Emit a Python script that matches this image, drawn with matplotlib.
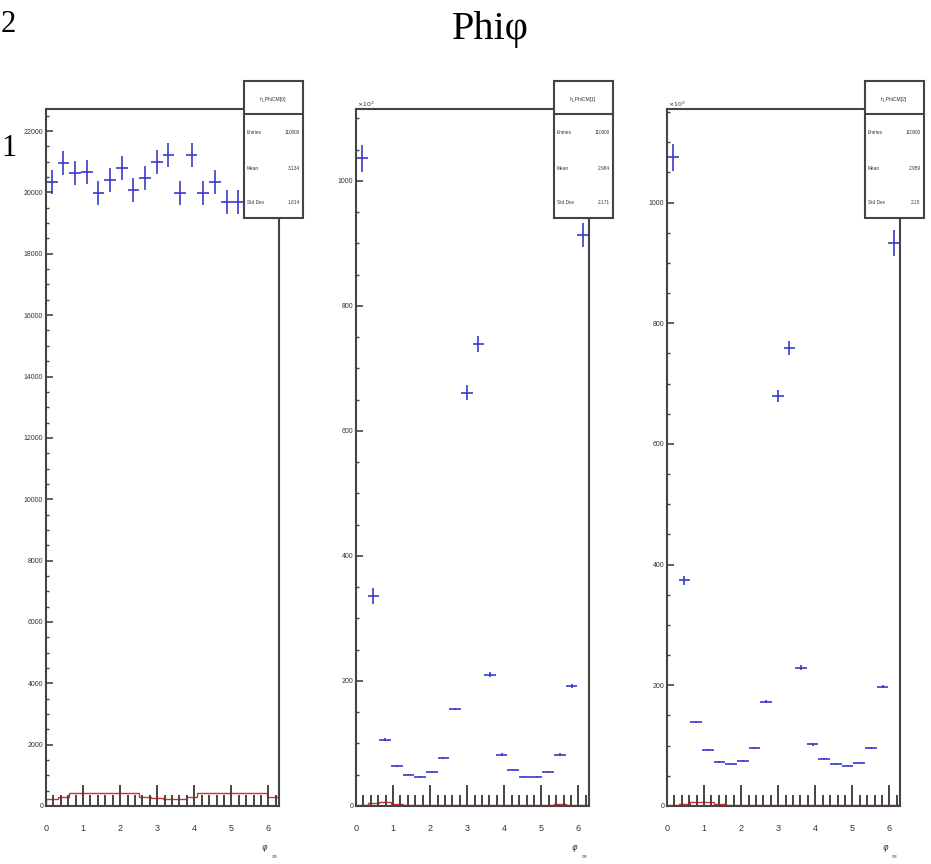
import numpy as np
import matplotlib.pyplot as plt
from matplotlib.patches import Rectangle
from matplotlib.lines import Line2D
from matplotlib.ticker import MultipleLocator

# 20 bins over 0..2pi
edges = np.linspace(0, 2 * np.pi, 21)
centers = 0.5 * (edges[:-1] + edges[1:])
halfw = 0.5 * (edges[1] - edges[0])

# h_PhiCM[0] (counts), last three bins sit behind the stats box
blue0 = [20330, 20950, 20620, 20660, 19980, 20400, 20790, 20070, 20460, 20990,
         21210, 19980, 21210, 19980, 20330, 19680, 19680, 19900, 20100, 20300]
err0 = [390] * 20
red0 = [220, 300, 430, 430, 430, 430, 430, 430, 300, 260,
        220, 220, 300, 430, 430, 430, 430, 430, 430, 300]

# h_PhiCM[1] (x10^3)
blue1 = [1036, 336, 106, 64, 50, 47, 55, 77, 155, 661,
         739, 210, 82, 58, 47, 47, 54, 82, 192, 913]
err1 = [21, 13, 2, 1, 1, 1, 1, 2, 2, 12, 13, 4, 2, 1, 1, 1, 1, 2, 3, 19]
red1 = [2, 5, 6, 3, 2, 2, 2, 2, 2, 2, 2, 2, 2, 2, 2, 2, 2, 3, 2, 2]

# h_PhiCM[2] (x10^3)
blue2 = [1075, 374, 139, 93, 73, 70, 75, 96, 173, 680,
         759, 229, 102, 78, 70, 67, 72, 96, 198, 933]
err2 = [22, 7, 2, 2, 1, 1, 1, 2, 3, 10, 11, 4, 2, 2, 1, 1, 1, 2, 3, 21]
red2 = [2, 4, 7, 6, 3, 2, 2, 2, 2, 2, 2, 2, 2, 2, 2, 2, 2, 2, 2, 2]

names = ['h_PhiCM[0]', 'h_PhiCM[1]', 'h_PhiCM[2]']
entries = ['110000', '110000', '110000']
means = ['3.134', '2.984', '2.959']
stddevs = ['1.814', '2.171', '2.15']

W, H = 931, 864
fig = plt.figure(figsize=(W / 100, H / 100), dpi=100)
fc = '#444444'
blue = '#3a3acc'
red = '#e02828'

lefts = [46, 356, 667]
box_lefts = [244, 554, 865]
ymaxs = [22720, 1115, 1155]
ymajor = [2000, 200, 200]
yminor = [500, 50, 50]
data = [(blue0, err0, red0), (blue1, err1, red1), (blue2, err2, red2)]

for i in range(3):
    ax = fig.add_axes([lefts[i] / W, 1 - 806 / H, 233 / W, 697 / H])
    b, e, r = data[i]
    ax.errorbar(centers, b, xerr=halfw, yerr=e, fmt='none', ecolor=blue,
                elinewidth=1.2, capsize=0)
    ax.stairs(r, edges, color=red, lw=1.0)
    ax.set_xlim(0, 2 * np.pi)
    ax.set_ylim(0, ymaxs[i])
    ax.xaxis.set_major_locator(MultipleLocator(1))
    ax.xaxis.set_minor_locator(MultipleLocator(0.2))
    ax.yaxis.set_major_locator(MultipleLocator(ymajor[i]))
    ax.yaxis.set_minor_locator(MultipleLocator(yminor[i]))
    ax.tick_params(axis='x', which='major', direction='in', length=15, width=1.4,
                   color=fc, labelsize=6.5, pad=13, labelcolor='#333333')
    ax.tick_params(axis='x', which='minor', direction='in', length=8, width=1.4, color=fc)
    ax.tick_params(axis='y', which='major', direction='in', length=5, width=1.2,
                   color=fc, labelsize=5, pad=2, labelcolor='#333333')
    ax.tick_params(axis='y', which='minor', direction='in', length=2.5, width=1.0, color=fc)
    for lab in ax.get_xticklabels() + ax.get_yticklabels():
        lab.set_fontfamily('Liberation Sans')
    for s in ax.spines.values():
        s.set_color(fc)
        s.set_linewidth(1.5)
    if i > 0:
        fig.text((lefts[i] + 1) / W, 1 - 104 / H, r'$\times10^{3}$', fontsize=4.5,
                 color='#333333', ha='left', va='center')
    fig.text((lefts[i] + 219) / W, 1 - 849 / H, r'$\varphi$', fontsize=6,
             color='#333333', ha='center', va='center')
    fig.text((lefts[i] + 228) / W, 1 - 857 / H, 'CM', fontsize=2.5,
             color='#333333', ha='center', va='center')

    # stats box
    bx, bw = box_lefts[i], 58.5
    fig.patches.append(Rectangle((bx / W, 1 - 218 / H), bw / W, 137 / H,
                                 transform=fig.transFigure, facecolor='white',
                                 edgecolor=fc, lw=1.5, zorder=10))
    fig.lines.append(Line2D([bx / W, (bx + bw) / W], [1 - 114 / H, 1 - 114 / H],
                            transform=fig.transFigure, color=fc, lw=1.5, zorder=11))
    fig.text((bx + bw / 2) / W, 1 - 100 / H, names[i], fontsize=3.6, ha='center',
             va='center', color='#333333', zorder=12, family='Liberation Sans')
    rows = [('Entries', entries[i], 132), ('Mean', means[i], 169), ('Std Dev', stddevs[i], 202)]
    for lab, val, yy in rows:
        fig.text((bx + 3) / W, 1 - yy / H, lab, fontsize=3.4, ha='left', va='center',
                 color='#333333', zorder=12, family='Liberation Sans')
        fig.text((bx + bw - 3) / W, 1 - yy / H, val, fontsize=3.4, ha='right',
                 va='center', color='#333333', zorder=12, family='Liberation Sans')

fig.text(490 / W, 1 - 30 / H, 'Phi\u03c6', fontsize=29, ha='center', va='center',
         family='Liberation Serif')
fig.text(1 / W, 1 - 25 / H, '2', fontsize=22, ha='left', va='center',
         family='Liberation Serif')
fig.text(1 / W, 1 - 148 / H, '1', fontsize=22, ha='left', va='center',
         family='Liberation Serif')

fig.savefig('out.png', dpi=100)
